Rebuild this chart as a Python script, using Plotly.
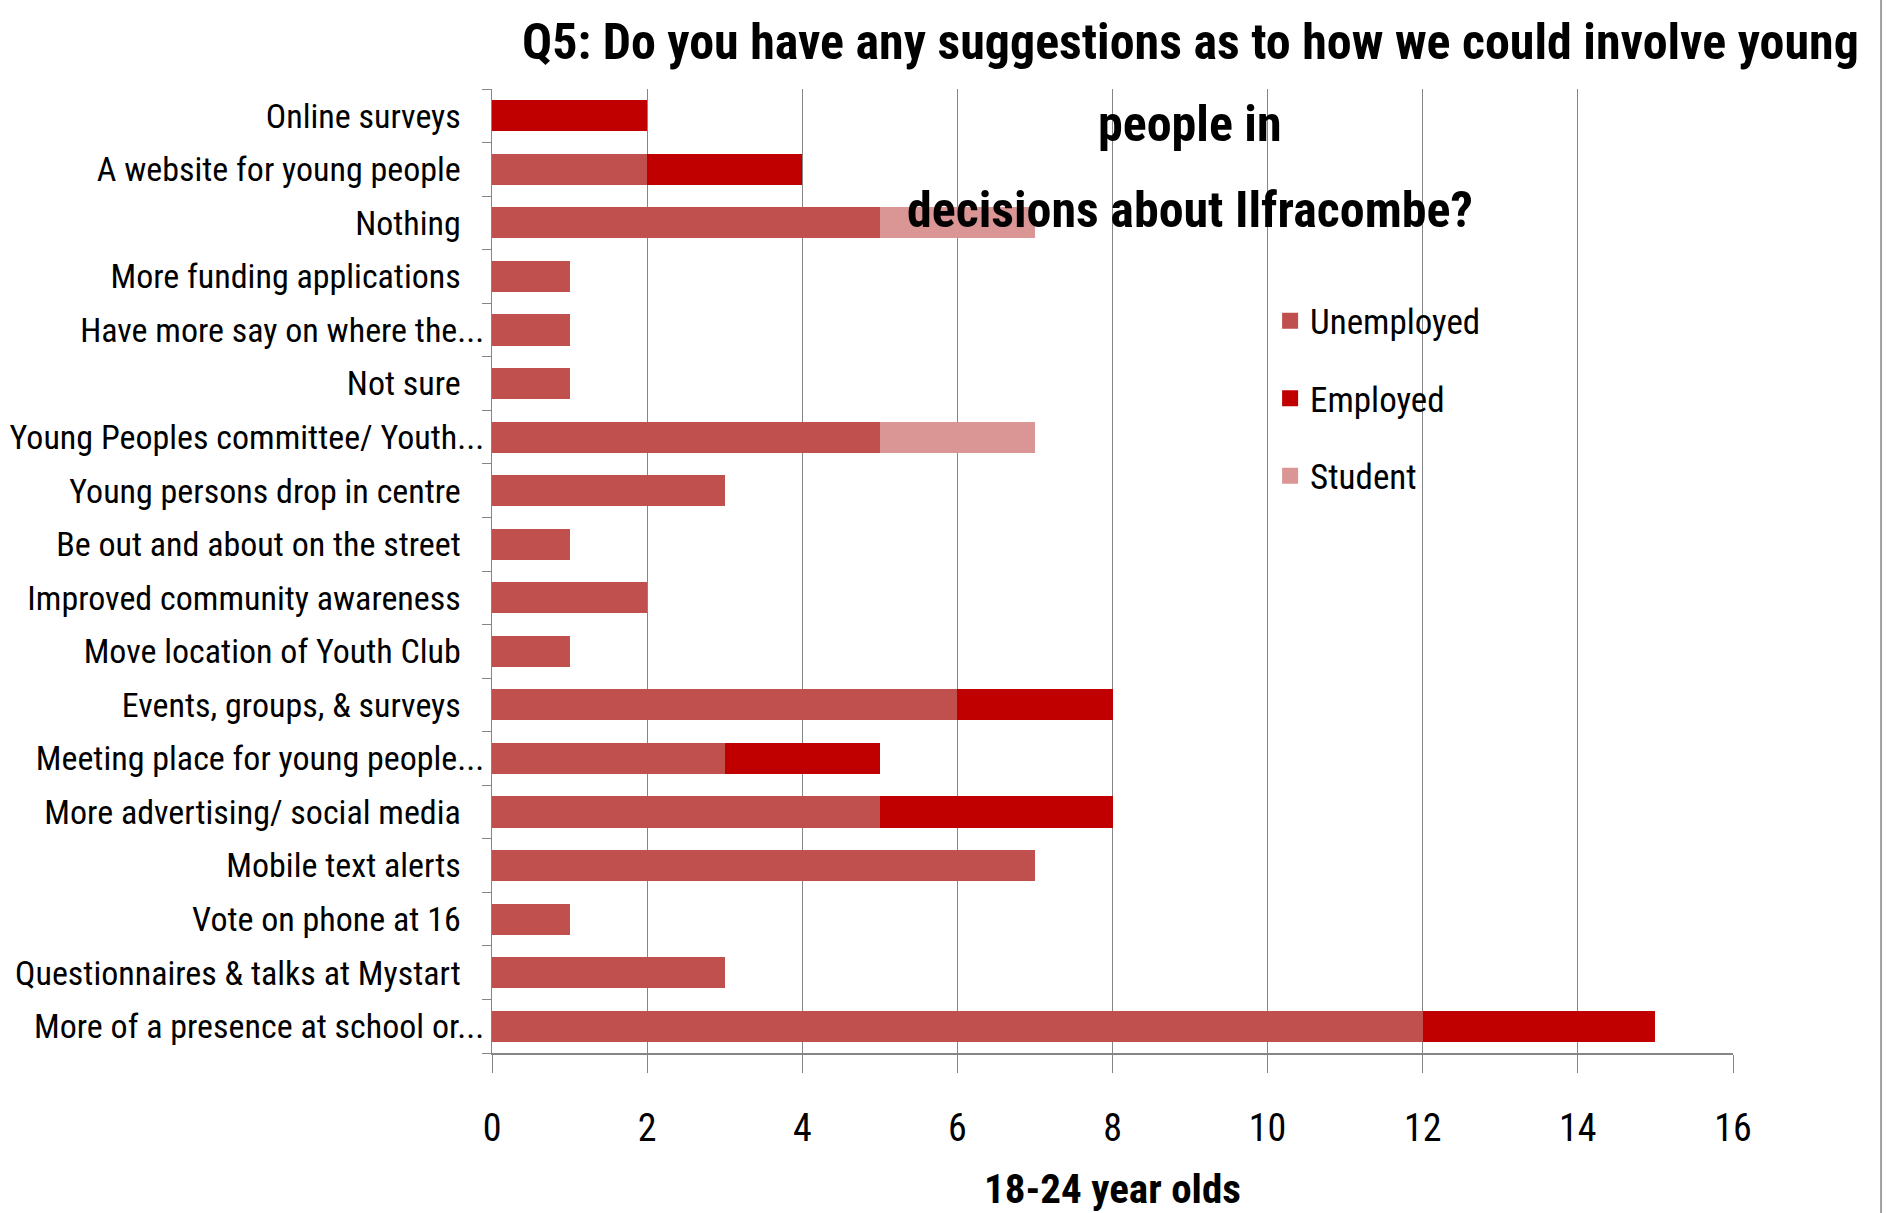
import plotly.graph_objects as go

categories = [
    "Online surveys",
    "A website for young people",
    "Nothing",
    "More funding applications",
    "Have more say on where the...",
    "Not sure",
    "Young Peoples committee/ Youth...",
    "Young persons drop in centre",
    "Be out and about on the street",
    "Improved community awareness",
    "Move location of Youth Club",
    "Events, groups, & surveys",
    "Meeting place for young people...",
    "More advertising/ social media",
    "Mobile text alerts",
    "Vote on phone at 16",
    "Questionnaires & talks at Mystart",
    "More of a presence at school or...",
]
unemployed = [0, 2, 5, 1, 1, 1, 5, 3, 1, 2, 1, 6, 3, 5, 7, 1, 3, 12]
employed = [2, 2, 0, 0, 0, 0, 0, 0, 0, 0, 0, 2, 2, 3, 0, 0, 0, 3]
student = [0, 0, 2, 0, 0, 0, 2, 0, 0, 0, 0, 0, 0, 0, 0, 0, 0, 0]
x_ticks = [0, 2, 4, 6, 8, 10, 12, 14, 16]

title_lines = [
    "Q5: Do you have any suggestions as to how we could involve young",
    "people in",
    "decisions about Ilfracombe?",
]
x_title = "18-24 year olds"

FONT = "Roboto Condensed, DejaVu Sans Condensed, sans-serif"
GRID = "#868686"

# Untruncated labels sit a little further from the axis than the "..." ones
ticktext = [c if c.endswith("...") else c + "\u00a0\u00a0\u00a0" for c in categories]

fig = go.Figure()
series = [
    ("Unemployed", unemployed, "#C0504D"),
    ("Employed", employed, "#C00000"),
    ("Student", student, "#D99694"),
]
for i, (name, vals, color) in enumerate(series):
    fig.add_trace(go.Bar(
        y=categories, x=vals, name=name, orientation="h",
        marker=dict(color=color, line=dict(width=0)),
        legendgroup=f"g{i}", showlegend=False,
    ))
    # legend key: a larger square swatch than the default bar key
    fig.add_trace(go.Scatter(
        x=[None], y=[None], mode="markers", name=name,
        marker=dict(symbol="square", size=16, color=color, line=dict(width=0)),
        legendgroup=f"g{i}", showlegend=True, hoverinfo="skip",
    ))

fig.update_layout(
    width=1886, height=1213,
    barmode="stack", bargap=0.42,
    paper_bgcolor="white", plot_bgcolor="white",
    margin=dict(l=492, r=153, t=89, b=160, autoexpand=False),
    font=dict(family=FONT, color="black", size=34),
    showlegend=True,
    legend=dict(
        x=0.627, y=0.79, xanchor="left", yanchor="top",
        font=dict(size=35, family=FONT), tracegroupgap=29,
        bgcolor="rgba(0,0,0,0)", itemwidth=30,
    ),
    xaxis=dict(
        range=[0, 16], tickvals=x_ticks, ticktext=[str(v) for v in x_ticks],
        showgrid=True, gridcolor=GRID, gridwidth=1,
        zeroline=False, showline=True, linecolor=GRID, linewidth=2,
        ticks="outside", ticklen=18, tickcolor=GRID, tickwidth=1,
        tickfont=dict(size=38, family=FONT), ticklabelstandoff=22,
        title=dict(text=f"<b>{x_title}</b>", font=dict(size=41, family=FONT), standoff=26),
    ),
    yaxis=dict(
        autorange="reversed", tickmode="array", tickvals=categories, ticktext=ticktext,
        tickson="boundaries", ticks="outside", ticklen=9, tickcolor=GRID,
        showline=True, linecolor=GRID, linewidth=1, showgrid=False,
        tickfont=dict(size=34, family=FONT),
    ),
)

title_y = [1.0488, 0.9637, 0.8745]
for text, yy in zip(title_lines, title_y):
    fig.add_annotation(
        text=f"<b>{text}</b>", xref="paper", yref="paper", x=0.5625, y=yy,
        xanchor="center", yanchor="middle", showarrow=False,
        font=dict(size=50, family=FONT, color="black"),
    )

# chart frame edge on the right
fig.add_shape(type="line", xref="paper", yref="paper", x0=1.1193, x1=1.1193,
              y0=-0.17, y1=1.1, line=dict(color="#A0A0A0", width=2))

fig.write_html("out.html")
